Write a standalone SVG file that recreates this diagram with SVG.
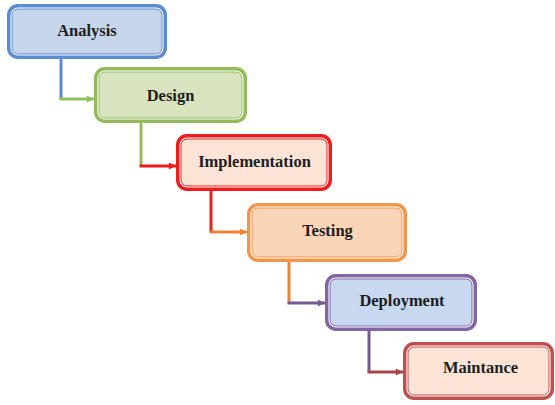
<svg xmlns="http://www.w3.org/2000/svg" width="555" height="405" viewBox="0 0 555 405">
  <style>
    .frame { stroke-width: 5.5; }
    .gap { fill: none; stroke: #ffffff; stroke-width: 1.1; }
    .label { font-family: "Liberation Serif", "Times New Roman", serif; font-weight: bold; font-size: 16.5px; fill: #1e1e1e; text-anchor: middle; }
    .wire { fill: none; stroke-width: 3; stroke-linecap: butt; }
  </style>
  <defs>
    <marker id="ah-green" viewBox="0 0 10 10" refX="10" refY="5" markerWidth="2.7" markerHeight="2.4" orient="auto" markerUnits="strokeWidth"><path d="M0,0 L10,5 L0,10 Z" fill="#8fc25a"/></marker>
    <marker id="ah-red" viewBox="0 0 10 10" refX="10" refY="5" markerWidth="2.7" markerHeight="2.4" orient="auto" markerUnits="strokeWidth"><path d="M0,0 L10,5 L0,10 Z" fill="#ee1c1c"/></marker>
    <marker id="ah-orange" viewBox="0 0 10 10" refX="10" refY="5" markerWidth="2.7" markerHeight="2.4" orient="auto" markerUnits="strokeWidth"><path d="M0,0 L10,5 L0,10 Z" fill="#e9843a"/></marker>
    <marker id="ah-purple" viewBox="0 0 10 10" refX="10" refY="5" markerWidth="2.7" markerHeight="2.4" orient="auto" markerUnits="strokeWidth"><path d="M0,0 L10,5 L0,10 Z" fill="#735b93"/></marker>
    <marker id="ah-maroon" viewBox="0 0 10 10" refX="10" refY="5" markerWidth="2.7" markerHeight="2.4" orient="auto" markerUnits="strokeWidth"><path d="M0,0 L10,5 L0,10 Z" fill="#a8464a"/></marker>
  </defs>
  <rect width="555" height="405" fill="#ffffff"/>

  <!-- connectors: vertical leg in the source colour, horizontal leg in the target colour -->
  <g id="connectors">
    <path class="wire" d="M61,59 V99" stroke="#5b8bd0"/>
    <path class="wire" d="M59.5,99 H94" stroke="#8fc25a" marker-end="url(#ah-green)"/>
    <path class="wire" d="M141,123 V166" stroke="#93bb5c"/>
    <path class="wire" d="M139.5,166 H176" stroke="#ee1c1c" marker-end="url(#ah-red)"/>
    <path class="wire" d="M211,191 V232" stroke="#ee1c1c"/>
    <path class="wire" d="M209.5,232 H247" stroke="#e9843a" marker-end="url(#ah-orange)"/>
    <path class="wire" d="M289,262 V303" stroke="#e9843a"/>
    <path class="wire" d="M287.5,303 H325" stroke="#735b93" marker-end="url(#ah-purple)"/>
    <path class="wire" d="M369,331 V372" stroke="#735b93"/>
    <path class="wire" d="M367.5,372 H403" stroke="#a8464a" marker-end="url(#ah-maroon)"/>
  </g>

  <g id="analysis">
    <rect class="frame" x="9.75" y="6.75" width="154.5" height="49.5" rx="8" fill="#c6d5ea" stroke="#5b8bd0"/>
    <rect class="gap" x="11" y="8" width="152" height="47" rx="7"/>
    <text class="label" x="87" y="36">Analysis</text>
  </g>

  <g id="design">
    <rect class="frame" x="96.75" y="69.75" width="147.5" height="50.5" rx="8" fill="#d8e4bf" stroke="#93bb5c"/>
    <rect class="gap" x="98" y="71" width="145" height="48" rx="7"/>
    <text class="label" x="170.5" y="101">Design</text>
  </g>

  <g id="implementation">
    <rect class="frame" x="178.75" y="136.75" width="150.5" height="51.5" rx="8" fill="#fbe4d6" stroke="#ee1c1c"/>
    <rect class="gap" x="180" y="138" width="148" height="49" rx="7"/>
    <text class="label" x="254.5" y="167">Implementation</text>
  </g>

  <g id="testing">
    <rect class="frame" x="249.75" y="205.75" width="154.5" height="53.5" rx="8" fill="#fbd5b7" stroke="#f0964d"/>
    <rect class="gap" x="251" y="207" width="152" height="51" rx="7"/>
    <text class="label" x="327.5" y="236">Testing</text>
  </g>

  <g id="deployment">
    <rect class="frame" x="327.75" y="276.75" width="146.5" height="51.5" rx="8" fill="#c7d8f0" stroke="#8266a4"/>
    <rect class="gap" x="329" y="278" width="144" height="49" rx="7"/>
    <text class="label" x="402" y="306">Deployment</text>
  </g>

  <g id="maintance">
    <rect class="frame" x="405.75" y="344.75" width="145.5" height="52.5" rx="8" fill="#fbe4d6" stroke="#c0504d"/>
    <rect class="gap" x="407" y="346" width="143" height="50" rx="7"/>
    <text class="label" x="480.5" y="373">Maintance</text>
  </g>
</svg>
